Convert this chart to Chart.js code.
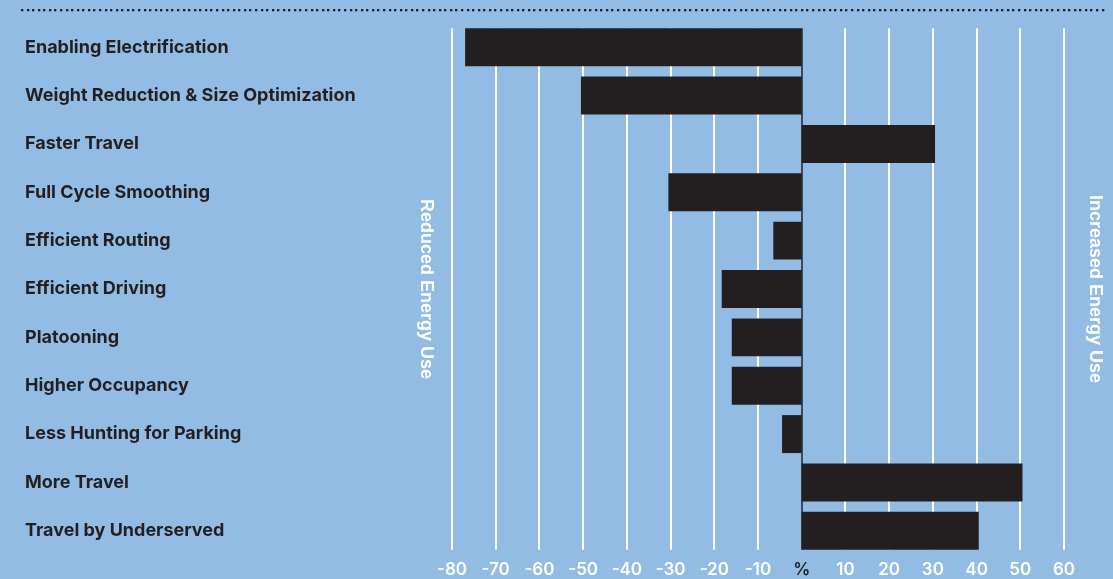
<!DOCTYPE html>
<html lang="en">
<head>
    <meta charset="UTF-8">
    <title>Energy Use</title>
    <style>
        html, body { margin: 0; padding: 0; background: #93bce5; }
        #wrap { width: 1113px; height: 579px; position: relative; }
    </style>
</head>
<body>
    <div id="wrap">
        <canvas id="energyChart" width="1113" height="579"></canvas>
    </div>

    <script src="https://cdn.jsdelivr.net/npm/chart.js"></script>
    <script>
        // dados
        const categorias = [
            'Enabling Electrification',
            'Weight Reduction & Size Optimization',
            'Faster Travel',
            'Full Cycle Smoothing',
            'Efficient Routing',
            'Efficient Driving',
            'Platooning',
            'Higher Occupancy',
            'Less Hunting for Parking',
            'More Travel',
            'Travel by Underserved'
        ];
        const valores = [-77, -50.5, 30.5, -30.5, -6.5, -18.3, -16, -16, -4.5, 50.5, 40.5];
        const eixoMin = -80;
        const eixoMax = 60;
        const eixoPasso = 10;
        const rotuloEsquerda = 'Reduced Energy Use';
        const rotuloDireita = 'Increased Energy Use';

        const corBarra = '#231f20';
        const corTexto = '#231f20';

        // linhas de grade só entre a primeira e a última barra
        const gradePlugin = {
            id: 'grade',
            beforeDatasetsDraw(chart) {
                const ctx = chart.ctx;
                const x = chart.scales.x;
                const barras = chart.getDatasetMeta(0).data;
                const topo = barras[0].y - barras[0].height / 2;
                const base = barras[barras.length - 1].y + barras[barras.length - 1].height / 2;
                ctx.save();
                x.ticks.forEach(t => {
                    const px = Math.round(x.getPixelForValue(t.value));
                    ctx.beginPath();
                    ctx.lineWidth = 2;
                    ctx.strokeStyle = t.value === 0 ? '#3d4a58' : '#ffffff';
                    ctx.moveTo(px, topo);
                    ctx.lineTo(px, base);
                    ctx.stroke();
                });
                ctx.restore();
            }
        };

        // linha pontilhada no topo + textos verticais
        const extrasPlugin = {
            id: 'extras',
            afterDraw(chart) {
                const ctx = chart.ctx;
                ctx.save();
                ctx.fillStyle = corTexto;
                for (let px = 21; px < 1106; px += 5.57) {
                    ctx.fillRect(Math.round(px), 9, 2.3, 2.3);
                }

                const barras = chart.getDatasetMeta(0).data;
                const meio = (barras[0].y + barras[barras.length - 1].y) / 2;
                ctx.fillStyle = '#ffffff';
                ctx.font = 'bold 18px "Liberation Sans", Arial, sans-serif';
                ctx.textAlign = 'center';
                ctx.textBaseline = 'middle';

                ctx.save();
                ctx.translate(426, meio);
                ctx.rotate(Math.PI / 2);
                ctx.fillText(rotuloEsquerda, 0, 0);
                ctx.restore();

                ctx.save();
                ctx.translate(1095, meio);
                ctx.rotate(Math.PI / 2);
                ctx.fillText(rotuloDireita, 0, 0);
                ctx.restore();

                ctx.restore();
            }
        };

        const ctxEnergia = document.getElementById('energyChart').getContext('2d');
        const energyChart = new Chart(ctxEnergia, {
            type: 'bar',
            data: {
                labels: categorias,
                datasets: [{
                    data: valores,
                    backgroundColor: corBarra,
                    borderWidth: 0,
                    barPercentage: 0.785,
                    categoryPercentage: 1
                }]
            },
            options: {
                indexAxis: 'y',
                responsive: false,
                animation: false,
                layout: {
                    padding: { left: 25, right: 49, top: 23, bottom: 0 }
                },
                plugins: {
                    legend: { display: false },
                    tooltip: { enabled: false }
                },
                scales: {
                    x: {
                        min: eixoMin,
                        max: eixoMax,
                        grid: { display: false, drawTicks: false },
                        border: { display: false },
                        afterFit(scale) { scale.height = 24; },
                        ticks: {
                            stepSize: eixoPasso,
                            padding: 5,
                            autoSkip: false,
                            maxRotation: 0,
                            font: { family: 'Inter', size: 17, weight: '600' },
                            color: c => (c.tick && c.tick.value === 0) ? corTexto : '#ffffff',
                            callback: v => v === 0 ? '%' : String(v)
                        }
                    },
                    y: {
                        grid: { display: false, drawTicks: false },
                        border: { display: false },
                        afterFit(scale) { scale.width = 427; },
                        ticks: {
                            crossAlign: 'far',
                            autoSkip: false,
                            padding: 0,
                            font: { family: 'Inter', size: 18, weight: '700' },
                            color: corTexto
                        }
                    }
                }
            },
            plugins: [gradePlugin, extrasPlugin]
        });
    </script>
</body>
</html>
